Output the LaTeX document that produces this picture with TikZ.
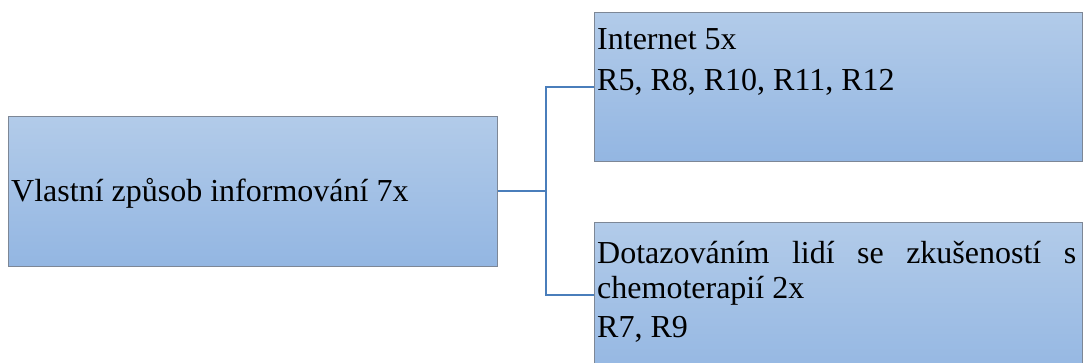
\documentclass[tikz,border=0pt]{standalone}
\usepackage{fontspec}
\setmainfont{Liberation Serif}
\definecolor{boxtop}{HTML}{B2CBE9}
\definecolor{boxbottom}{HTML}{93B6E2}
\definecolor{boxline}{HTML}{7D8796}
\definecolor{linkblue}{HTML}{4A7EBB}
\newcommand{\boxfont}{\fontsize{32}{36}\selectfont}
\tikzset{
  infobox/.style={rectangle, draw=boxline, line width=1.3pt, inner sep=0pt,
    top color=boxtop, bottom color=boxbottom, anchor=north west},
  boxtext/.style={anchor=base west, inner sep=0pt, font=\boxfont},
  link/.style={draw=linkblue, line width=2pt}
}
\begin{document}
\begin{tikzpicture}[x=1pt, y=-1pt]
\useasboundingbox (0,0) rectangle (1084,362);
\clip (0,0) rectangle (1084,362);
% boxes
\node[infobox, minimum width=489pt, minimum height=150pt] (src) at (8,116) {};
\node[infobox, minimum width=488pt, minimum height=149pt] (web) at (594,12) {};
\node[infobox, minimum width=488pt, minimum height=160pt] (ask) at (594,222) {};
% texts
\node[boxtext] (srctext) at (11,201) {Vlastní způsob informování 7x};
\node[boxtext] (webtitle) at (597,49) {Internet 5x};
\node[boxtext] (webrefs) at (597,90) {R5, R8, R10, R11, R12};
\node[boxtext] (asktitle) at (597,263) {\makebox[479pt][s]{Dotazováním\hfill lidí\hfill se\hfill zkušeností\hfill s}};
\node[boxtext] (asktitle2) at (597,298) {chemoterapií 2x};
\node[boxtext] (askrefs) at (597,337) {R7, R9};
% connectors
\coordinate (fork) at (546,191);
\coordinate (webin) at (594,87);
\coordinate (askin) at (594,295);
\draw[link] (src.east |- fork) -- (fork);
\draw[link] (webin) -| (fork) |- (askin);
\end{tikzpicture}
\end{document}
